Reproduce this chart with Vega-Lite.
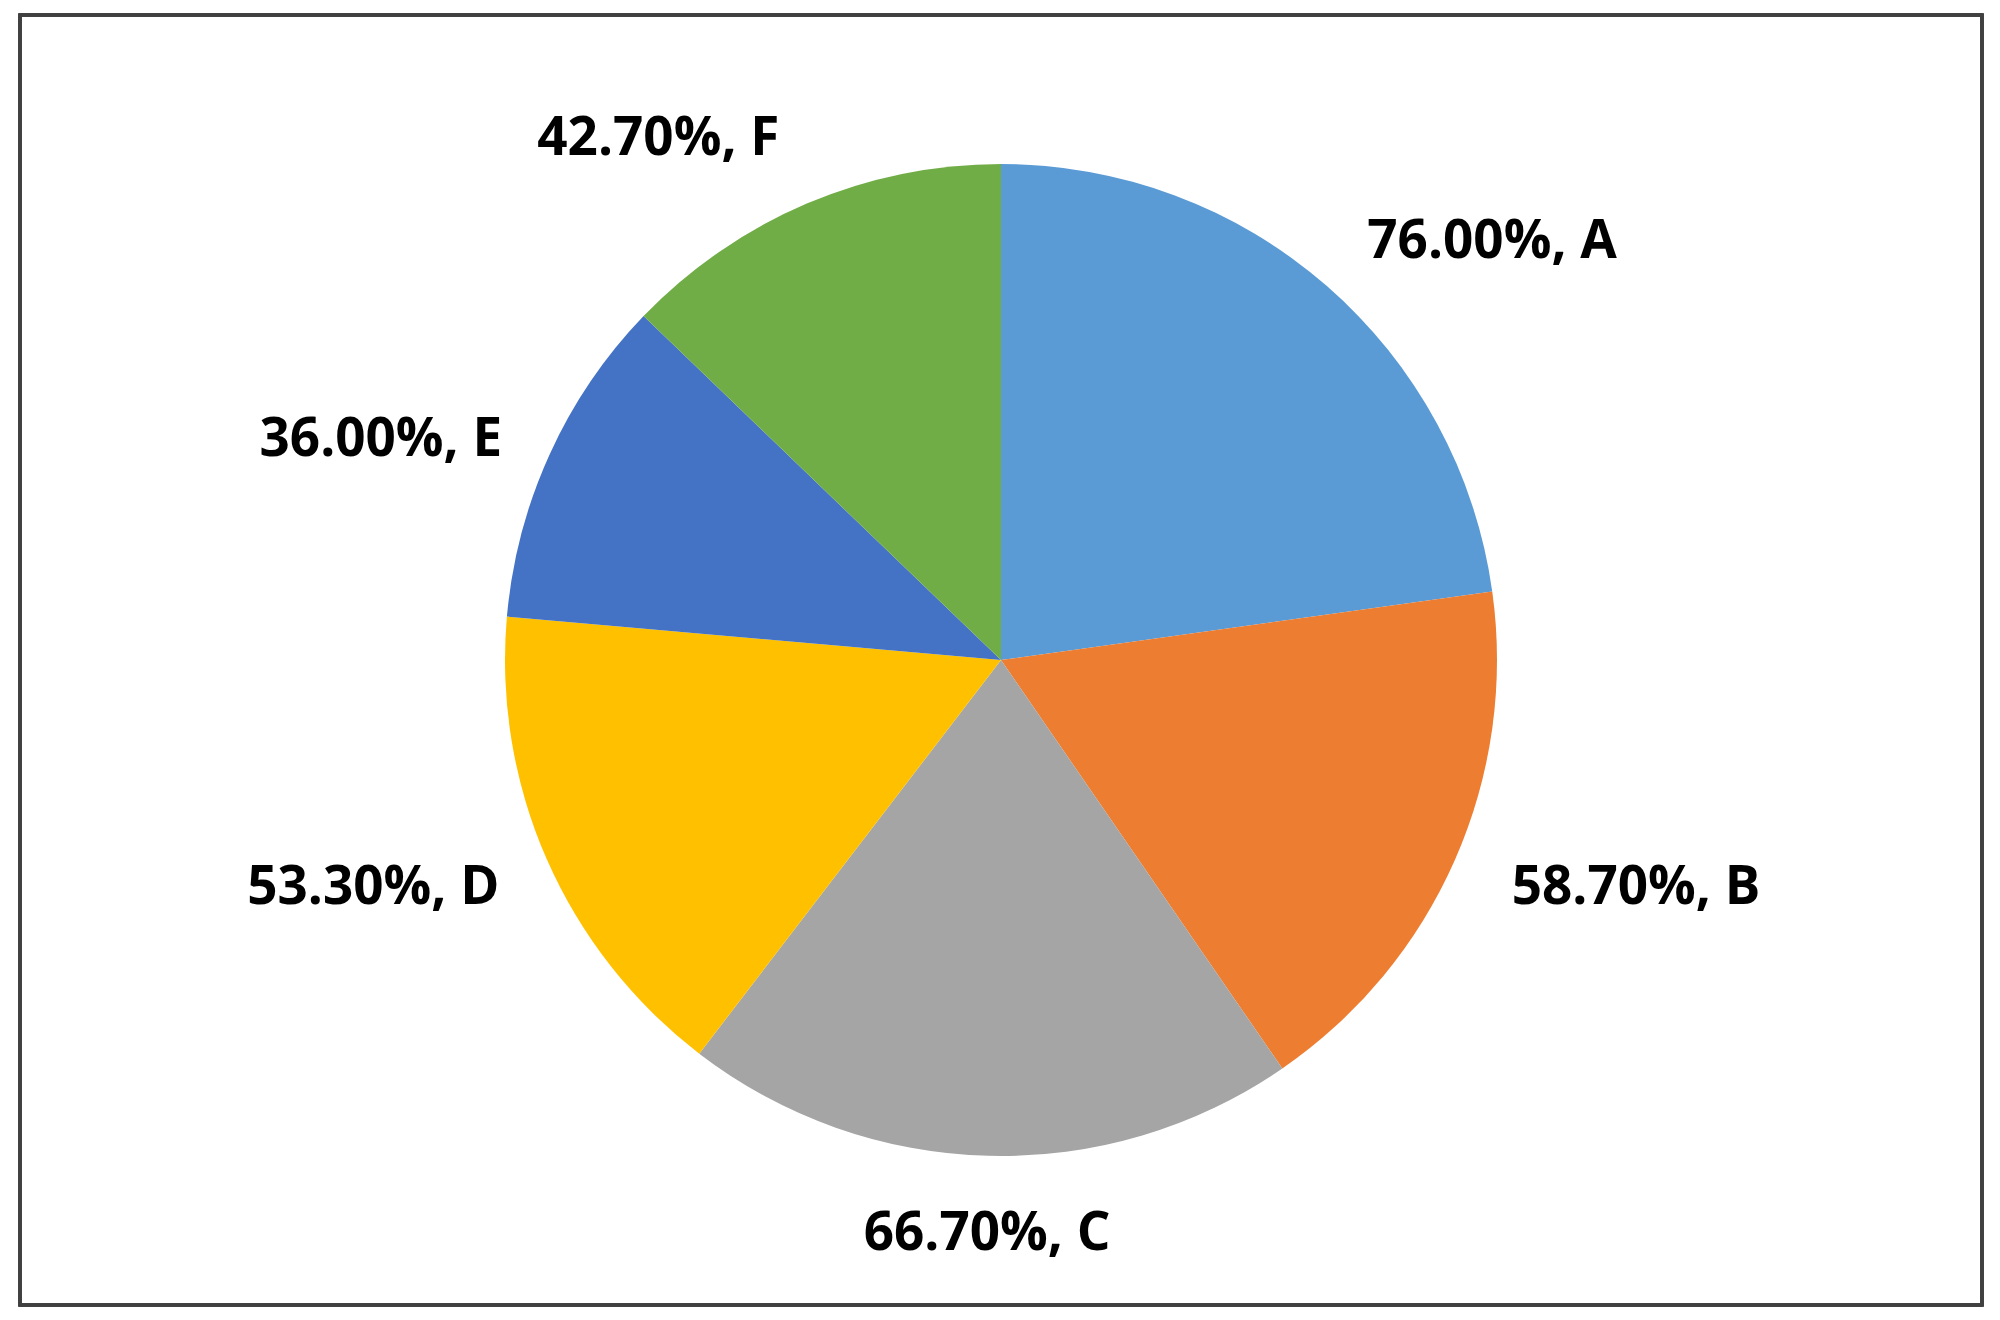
{
  "$schema": "https://vega.github.io/schema/vega-lite/v6.json",
  "width": 2000,
  "height": 1320,
  "autosize": {"type": "fit", "contains": "padding"},
  "padding": {"left": 18, "top": 13, "right": 16, "bottom": 13},
  "background": "white",
  "config": {"view": {"stroke": null}},
  "data": {
    "values": [
      {"category": "A", "value": 76.0},
      {"category": "B", "value": 58.7},
      {"category": "C", "value": 66.7},
      {"category": "D", "value": 53.3},
      {"category": "E", "value": 36.0},
      {"category": "F", "value": 42.7}
    ]
  },
  "transform": [
    {"calculate": "format(datum.value, '.2f') + '%, ' + datum.category", "as": "label"}
  ],
  "layer": [
    {
      "mark": {"type": "rect", "fill": null, "fillOpacity": 0, "stroke": "#404040", "strokeWidth": 3},
      "encoding": {}
    },
    {
      "mark": {"type": "arc", "outerRadius": 496, "stroke": null},
      "encoding": {
        "theta": {"field": "value", "type": "quantitative", "stack": true},
        "order": {"field": "category", "type": "ordinal", "sort": "ascending"},
        "color": {
          "field": "category",
          "type": "nominal",
          "scale": {
            "domain": ["A", "B", "C", "D", "E", "F"],
            "range": ["#5B9BD5", "#ED7D31", "#A5A5A5", "#FFC000", "#4472C4", "#70AD47"]
          },
          "legend": null
        }
      }
    },
    {
      "mark": {"type": "text", "radius": 558, "dy": 3, "align": "left", "baseline": "middle", "font": "Open Sans", "fontWeight": "bold", "fontSize": 53, "color": "#000000"},
      "encoding": {
        "theta": {"field": "value", "type": "quantitative", "stack": true},
        "order": {"field": "category", "type": "ordinal", "sort": "ascending"},
        "detail": {"field": "category", "type": "nominal"},
        "text": {"condition": {"test": "datum.category === 'A' || datum.category === 'B'", "field": "label"}, "value": ""}
      }
    },
    {
      "mark": {"type": "text", "radius": 548, "dy": 7, "align": "right", "baseline": "middle", "font": "Open Sans", "fontWeight": "bold", "fontSize": 53, "color": "#000000"},
      "encoding": {
        "theta": {"field": "value", "type": "quantitative", "stack": true},
        "order": {"field": "category", "type": "ordinal", "sort": "ascending"},
        "detail": {"field": "category", "type": "nominal"},
        "text": {"condition": {"test": "datum.category === 'D' || datum.category === 'E'", "field": "label"}, "value": ""}
      }
    },
    {
      "mark": {"type": "text", "radius": 566, "align": "right", "baseline": "middle", "font": "Open Sans", "fontWeight": "bold", "fontSize": 53, "color": "#000000"},
      "encoding": {
        "theta": {"field": "value", "type": "quantitative", "stack": true},
        "order": {"field": "category", "type": "ordinal", "sort": "ascending"},
        "detail": {"field": "category", "type": "nominal"},
        "text": {"condition": {"test": "datum.category === 'F'", "field": "label"}, "value": ""}
      }
    },
    {
      "mark": {"type": "text", "radius": 548, "align": "center", "baseline": "top", "font": "Open Sans", "fontWeight": "bold", "fontSize": 53, "color": "#000000"},
      "encoding": {
        "theta": {"field": "value", "type": "quantitative", "stack": true},
        "order": {"field": "category", "type": "ordinal", "sort": "ascending"},
        "detail": {"field": "category", "type": "nominal"},
        "text": {"condition": {"test": "datum.category === 'C'", "field": "label"}, "value": ""}
      }
    }
  ]
}
